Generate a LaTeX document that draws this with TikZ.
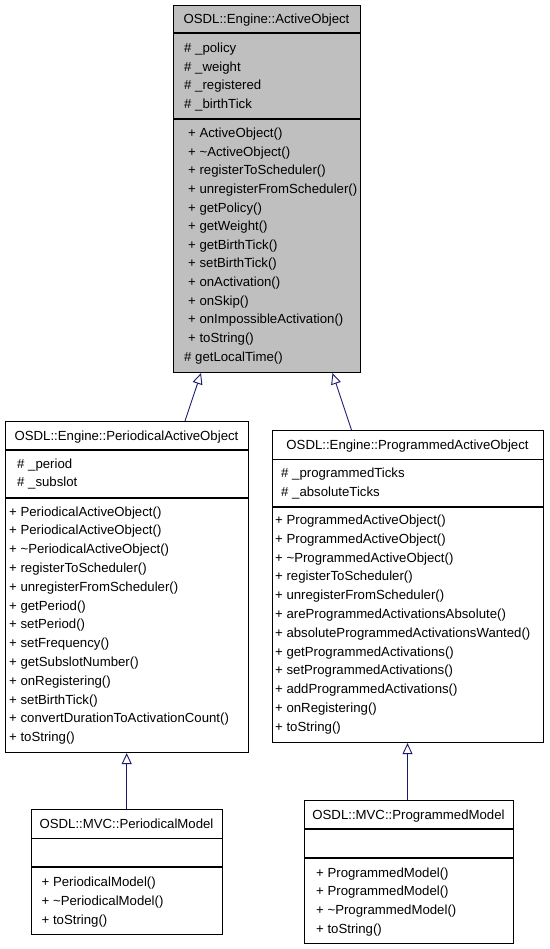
\documentclass[tikz,border=0pt]{standalone}
\usepackage{fontspec}
\setmainfont{Liberation Sans}
\usetikzlibrary{arrows.meta}
\definecolor{boxgray}{HTML}{BFBFBF}
\definecolor{edgeblue}{HTML}{191970}
\begin{document}
\begin{tikzpicture}[x=1pt,y=-1pt,
  classbox/.style={draw=black,line width=1.1pt,rectangle,inner sep=0pt,anchor=north west},
  sepline/.style={draw=black,line width=1.1pt},
  txt/.style={anchor=base west,inner sep=0pt,font=\fontsize{13.2}{15}\selectfont},
  ttl/.style={anchor=base,inner sep=0pt,font=\fontsize{13.2}{15}\selectfont},
  inherit/.style={draw=edgeblue,line width=0.9pt,-{Triangle[open,length=11pt,width=10pt,fill=white]}}]
\useasboundingbox (0,0) rectangle (549,949);
% ---- ActiveObject
\node[classbox,fill=boxgray,minimum width=187pt,minimum height=367pt] (ao) at (173,5) {};
\draw[sepline] (173,33) -- (360,33);
\draw[sepline] (173,119) -- (360,119);
\node[ttl] (aot) at (266.5,23.5) {OSDL::Engine::ActiveObject};
\foreach \s [count=\i] in {\_policy,\_weight,\_registered,\_birthTick}
  \node[txt] (aoa\i) at (184,{48.5+18.4*(\i-1)+4.5}) {\# \s};
\foreach \s [count=\i] in {ActiveObject(),\textasciitilde ActiveObject(),registerToScheduler(),unregisterFromScheduler(),getPolicy(),getWeight(),getBirthTick(),setBirthTick(),onActivation(),onSkip(),onImpossibleActivation(),toString()}
  \node[txt] (aom\i) at (188,{133.3+18.6*(\i-1)+4.5}) {+ \s};
\node[txt] (aom13) at (184,{133.3+18.6*12+4.5}) {\# getLocalTime()};
% ---- PeriodicalActiveObject
\node[classbox,minimum width=243pt,minimum height=331pt] (pao) at (5,421) {};
\draw[sepline] (5,450) -- (248,450);
\draw[sepline] (5,498) -- (248,498);
\node[ttl] (paot) at (126.5,440) {OSDL::Engine::PeriodicalActiveObject};
\foreach \s [count=\i] in {\_period,\_subslot}
  \node[txt] (paoa\i) at (17,{464+18.4*(\i-1)+4.5}) {\# \s};
\foreach \s [count=\i] in {PeriodicalActiveObject(),PeriodicalActiveObject(),\textasciitilde PeriodicalActiveObject(),registerToScheduler(),unregisterFromScheduler(),getPeriod(),setPeriod(),setFrequency(),getSubslotNumber(),onRegistering(),setBirthTick(),convertDurationToActivationCount(),toString()}
  \node[txt] (paom\i) at (9,{511.5+18.8*(\i-1)+4.5}) {+ \s};
% ---- ProgrammedActiveObject
\node[classbox,minimum width=271pt,minimum height=312pt] (prao) at (272,430) {};
\draw[sepline] (272,459.5) -- (543,459.5);
\draw[sepline] (272,507) -- (543,507);
\node[ttl] (praot) at (407.5,449) {OSDL::Engine::ProgrammedActiveObject};
\foreach \s [count=\i] in {\_programmedTicks,\_absoluteTicks}
  \node[txt] (praoa\i) at (281,{473+18.6*(\i-1)+4.5}) {\# \s};
\foreach \s [count=\i] in {ProgrammedActiveObject(),ProgrammedActiveObject(),\textasciitilde ProgrammedActiveObject(),registerToScheduler(),unregisterFromScheduler(),areProgrammedActivationsAbsolute(),absoluteProgrammedActivationsWanted(),getProgrammedActivations(),setProgrammedActivations(),addProgrammedActivations(),onRegistering(),toString()}
  \node[txt] (praom\i) at (275,{520+18.8*(\i-1)+4.5}) {+ \s};
% ---- PeriodicalModel
\node[classbox,minimum width=191pt,minimum height=125pt] (pm) at (31,809) {};
\draw[sepline] (31,838.5) -- (222,838.5);
\draw[sepline] (31,867) -- (222,867);
\node[ttl] (pmt) at (126.5,828.5) {OSDL::MVC::PeriodicalModel};
\foreach \s [count=\i] in {PeriodicalModel(),\textasciitilde PeriodicalModel(),toString()}
  \node[txt] (pmm\i) at (41.5,{882.3+18.8*(\i-1)+4.5}) {+ \s};
% ---- ProgrammedModel
\node[classbox,minimum width=209pt,minimum height=143pt] (prm) at (304,800) {};
\draw[sepline] (304,829) -- (513,829);
\draw[sepline] (304,858) -- (513,858);
\node[ttl] (prmt) at (408.5,819) {OSDL::MVC::ProgrammedModel};
\foreach \s [count=\i] in {ProgrammedModel(),ProgrammedModel(),\textasciitilde ProgrammedModel(),toString()}
  \node[txt] (prmm\i) at (316,{872.7+18.6*(\i-1)+4.5}) {+ \s};
% ---- inheritance
\draw[inherit] (pao.north -| 185,0) -- (ao.south -| 201,0);
\draw[inherit] (prao.north -| 351.5,0) -- (ao.south -| 332.5,0);
\draw[inherit] (pm.north -| 126.7,0) -- (pao.south -| 126.7,0);
\draw[inherit] (prm.north -| 407.5,0) -- (prao.south -| 407.5,0);
\end{tikzpicture}
\end{document}
